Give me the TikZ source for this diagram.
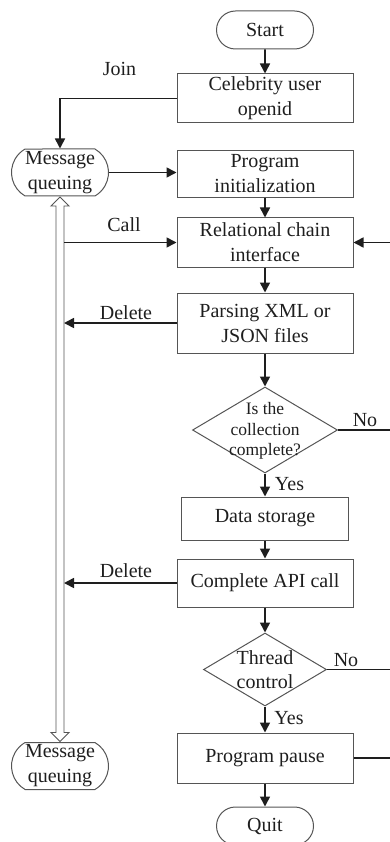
\documentclass[tikz,border=0pt]{standalone}
\usepackage{fontspec}
\setmainfont{Liberation Serif}
\usetikzlibrary{shapes.geometric,shapes.misc,arrows.meta,calc}
\definecolor{ink}{HTML}{1E1E1E}
\definecolor{edge}{HTML}{555555}
\tikzset{
  txt/.style={font=\fontsize{20}{25}\selectfont, align=center, text=ink},
  box/.style={txt, draw=edge, line width=1pt, rectangle, minimum width=176pt, inner sep=0pt},
  term/.style={txt, draw=edge, line width=1pt, rounded rectangle, minimum width=97pt, minimum height=38pt, inner sep=0pt},
  mqbox/.style={txt, draw=edge, line width=1pt, rounded rectangle, rounded rectangle arc length=120, minimum width=97pt, minimum height=47pt, inner sep=0pt},
  dia/.style={draw=edge, line width=1pt, diamond, inner sep=0pt},
  conn/.style={draw=ink, line width=1.6pt, -{Triangle[length=10pt,width=10pt]}},
  plain/.style={draw=ink, line width=1.6pt},
  lbl/.style={font=\fontsize{20}{25}\selectfont, text=ink, inner sep=0pt, anchor=base},
  dtxt/.style={font=\fontsize{17.5}{20.5}\selectfont, align=center, text=ink, inner sep=0pt},
  dtxtb/.style={font=\fontsize{20}{24}\selectfont, align=center, text=ink, inner sep=0pt},
}
\begin{document}
\begin{tikzpicture}[x=1pt,y=-1pt]
\useasboundingbox (0,0) rectangle (390,842);
\clip (0,0) rectangle (390,842);
\coordinate (bus) at (64,0);
\coordinate (rt) at (391,0);

\node[term] (start) at (265,30) {Start};
\node[box, minimum height=49pt] (celeb) at (265,98.5) {Celebrity user\\openid};
\node[mqbox] (mq1) at (60,172.5) {Message\\queuing};
\node[box, minimum height=47pt] (init) at (265,174) {Program\\initialization};
\node[box, minimum height=49pt] (rel) at (265,242.5) {Relational chain\\interface};
\node[box, minimum height=60pt] (parse) at (265,323) {Parsing XML or\\JSON files};
\node[dia, minimum width=145pt, minimum height=86pt] (d1) at (265,430) {};
\node[dtxt] (d1t) at (265,431) {Is the\\collection\\complete?};
\node[box, minimum width=167pt, minimum height=43pt] (store) at (265,518.5) {Data storage};
\node[box, minimum height=48pt] (api) at (265,583) {Complete API call};
\node[dia, minimum width=123pt, minimum height=73pt] (d2) at (265,669.5) {};
\node[dtxtb] (d2t) at (265,670) {Thread\\control};
\node[box, minimum height=50pt] (pause) at (265,758) {Program pause};
\node[term] (quit) at (265,826) {Quit};
\node[mqbox] (mq2) at (60,766) {Message\\queuing};

% labels
\node[lbl] (join) at (119.5,76) {Join};
\node[lbl] (call) at (124,231) {Call};
\node[lbl] (del1) at (126,319) {Delete};
\node[lbl] (del2) at (126,577) {Delete};
\node[lbl] (no1) at (365,426) {No};
\node[lbl] (no2) at (346,666) {No};
\node[lbl] (yes1) at (289.5,490) {Yes};
\node[lbl] (yes2) at (289,724) {Yes};

% hollow double arrow
\draw[edge, line width=0.9pt, fill=white]
  ($(mq1.south)+(0,0.5)$) -- ++(9,9) -- ++(-5,0) -- ($(mq2.north)+(4,-9.5)$) -- ++(5,0)
  -- ($(mq2.north)+(0,-0.5)$) -- ++(-9,-9) -- ++(5,0) -- ($(mq1.south)+(-4,9.5)$) -- ++(-5,0) -- cycle;

% connectors
\draw[conn] (start) -- (celeb);
\draw[conn] (celeb.west) -| (mq1.north);
\draw[conn] (mq1.east) -- (mq1.east -| init.west);
\draw[conn] (init) -- (rel);
\draw[conn] (rel.west -| bus) -- (rel.west);
\draw[conn] (rel.east -| rt) -- (rel.east);
\draw[conn] (rel) -- (parse);
\draw[conn] (parse.west) -- (parse.west -| bus);
\draw[conn] (parse) -- (d1);
\draw[plain] (d1.east) -- (d1.east -| rt);
\draw[conn] (d1) -- (store);
\draw[conn] (store) -- (api);
\draw[conn] (api.west) -- (api.west -| bus);
\draw[conn] (api) -- (d2);
\draw[plain] (d2.east) -- (d2.east -| rt);
\draw[conn] (d2) -- (pause);
\draw[plain] (pause.east) -- (pause.east -| rt);
\draw[conn] (pause) -- (quit);
\end{tikzpicture}
\end{document}
